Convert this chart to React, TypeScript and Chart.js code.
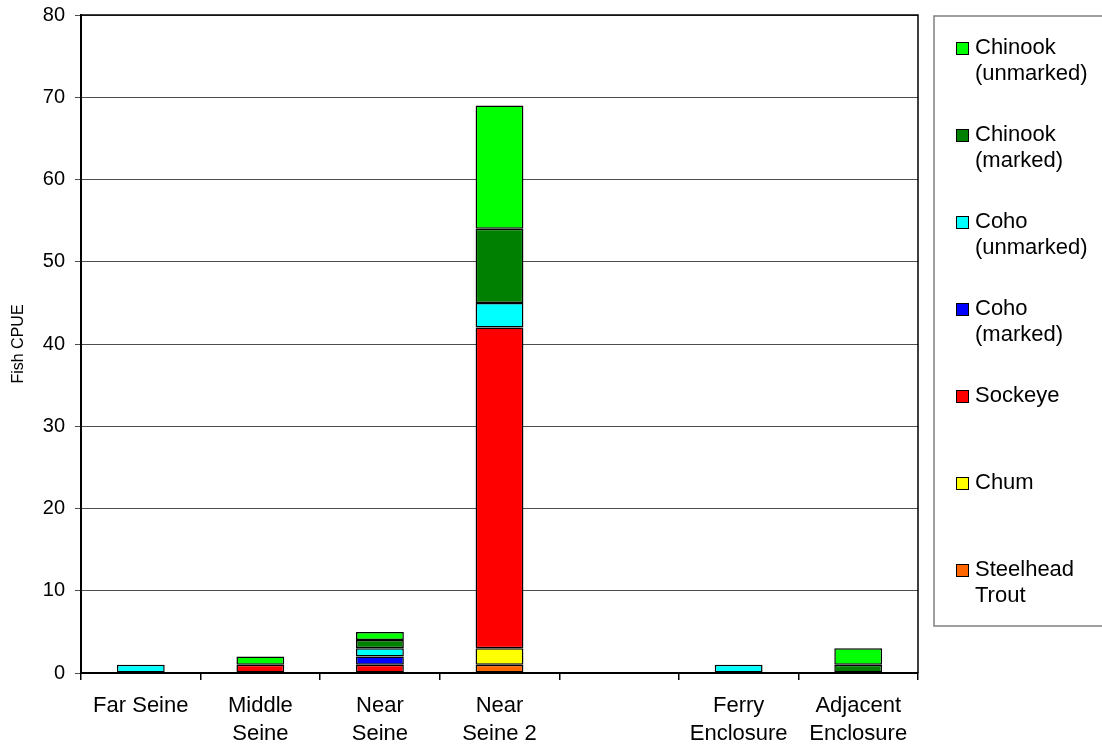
import React, { useEffect, useRef } from "react";
import { Chart, registerables } from "chart.js";

Chart.register(...registerables);

const sites: (string | string[])[] = [
  "Far Seine",
  ["Middle", "Seine"],
  ["Near", "Seine"],
  ["Near", "Seine 2"],
  "",
  ["Ferry", "Enclosure"],
  ["Adjacent", "Enclosure"],
];

// Stacked bottom to top
const steelheadTrout = [null, null, null, 1, null, null, null];
const chum = [null, null, null, 2, null, null, null];
const sockeye = [null, 1, 1, 39, null, null, null];
const cohoMarked = [null, null, 1, null, null, null, null];
const cohoUnmarked = [1, null, 1, 3, null, 1, null];
const chinookMarked = [null, null, 1, 9, null, null, 1];
const chinookUnmarked = [null, 1, 1, 15, null, null, 2];

const yTicks = [0, 10, 20, 30, 40, 50, 60, 70, 80];

const FONT = "'Liberation Sans', Arial, sans-serif";

const series = [
  { label: ["Steelhead", "Trout"], data: steelheadTrout, color: "#FF6600" },
  { label: ["Chum"], data: chum, color: "#FFFF00" },
  { label: ["Sockeye"], data: sockeye, color: "#FF0000" },
  { label: ["Coho", "(marked)"], data: cohoMarked, color: "#0000FF" },
  { label: ["Coho", "(unmarked)"], data: cohoUnmarked, color: "#00FFFF" },
  { label: ["Chinook", "(marked)"], data: chinookMarked, color: "#008000" },
  { label: ["Chinook", "(unmarked)"], data: chinookUnmarked, color: "#00FF00" },
];

// Frame on the top/right of the plot plus the boxed legend on the right
const framePlugin = {
  id: "frameAndLegend",
  afterDraw(chart: any) {
    const { ctx, chartArea } = chart;
    ctx.save();
    ctx.strokeStyle = "#000";
    ctx.lineWidth = 1.5;
    ctx.beginPath();
    ctx.moveTo(chartArea.left, chartArea.top);
    ctx.lineTo(chartArea.right, chartArea.top);
    ctx.lineTo(chartArea.right, chartArea.bottom);
    ctx.stroke();

    // legend box
    ctx.strokeStyle = "#808080";
    ctx.lineWidth = 1.5;
    ctx.strokeRect(934, 16, 200, 610);

    ctx.font = `22px ${FONT}`;
    ctx.textBaseline = "middle";
    ctx.textAlign = "left";
    const items = [...series].reverse();
    items.forEach((s, i) => {
      const y = 48 + i * 87;
      ctx.fillStyle = s.color;
      ctx.fillRect(956, y - 6, 13, 13);
      ctx.strokeStyle = "#000";
      ctx.lineWidth = 1;
      ctx.strokeRect(956.5, y - 5.5, 12, 12);
      ctx.fillStyle = "#000";
      s.label.forEach((line, j) => {
        ctx.fillText(line, 975, y + j * 26);
      });
    });
    ctx.restore();
  },
};

export default function App() {
  const canvasRef = useRef<HTMLCanvasElement | null>(null);

  useEffect(() => {
    document.body.style.margin = "0";
    const canvas = canvasRef.current;
    if (!canvas) return;
    const chart = new Chart(canvas, {
      type: "bar",
      data: {
        labels: sites,
        datasets: series.map((s) => ({
          label: s.label.join(" "),
          data: s.data,
          backgroundColor: s.color,
          borderColor: "#000",
          borderWidth: 1.5,
          borderSkipped: false,
          categoryPercentage: 1,
          barPercentage: 0.4,
        })),
      },
      options: {
        animation: false,
        responsive: false,
        devicePixelRatio: 1,
        layout: { padding: { left: 0, top: 15, right: 184, bottom: 0 } },
        plugins: {
          legend: { display: false },
          tooltip: { enabled: false },
        },
        scales: {
          x: {
            stacked: true,
            offset: true,
            grid: {
              offset: true,
              drawOnChartArea: false,
              drawTicks: true,
              tickLength: 7,
              color: "#000",
              lineWidth: 1.5,
            },
            border: { color: "#000", width: 2 },
            ticks: {
              color: "#000",
              font: { family: FONT, size: 22, lineHeight: 1.27 },
              padding: 12,
              maxRotation: 0,
              autoSkip: false,
            },
            afterFit(scale: any) {
              scale.height = 76;
              scale.paddingLeft = 0;
              scale.paddingRight = 0;
            },
          },
          y: {
            stacked: true,
            min: 0,
            max: 80,
            afterBuildTicks(scale: any) {
              scale.ticks = yTicks.map((v) => ({ value: v }));
            },
            grid: {
              color: "#4d4d4d",
              lineWidth: 1,
              tickLength: 6,
            },
            border: { color: "#000", width: 2 },
            ticks: {
              color: "#000",
              font: { family: FONT, size: 20 },
              padding: 10,
            },
            title: {
              display: true,
              text: "Fish CPUE",
              color: "#000",
              font: { family: FONT, size: 16 },
              padding: { top: 9, bottom: 0 },
            },
            afterFit(scale: any) {
              scale.width = 81;
              scale.paddingTop = 0;
              scale.paddingBottom = 0;
            },
          },
        },
      },
      plugins: [framePlugin],
    });
    return () => chart.destroy();
  }, []);

  return (
    <div style={{ width: 1102, height: 749, background: "#fff" }}>
      <canvas ref={canvasRef} width={1102} height={749} />
    </div>
  );
}
